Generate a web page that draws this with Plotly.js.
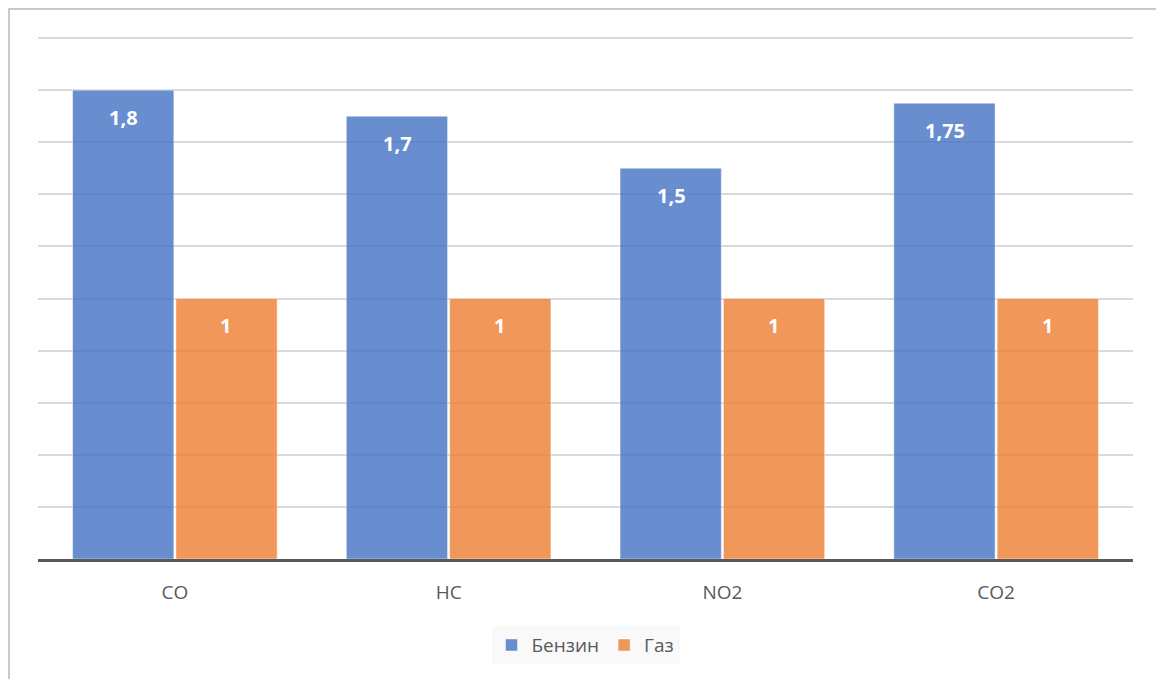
<!DOCTYPE html>
<html>
<head>
<meta charset="utf-8">
<script src="https://cdn.plot.ly/plotly-3.0.1.min.js"></script>
<style>
  html, body { margin: 0; padding: 0; background: #fff; }
  #chart { width: 1156px; height: 679px; }
  #frame { position: absolute; left: 8px; top: 8px; width: 1200px; height: 720px;
           border-left: 2px solid #c9c9c9; border-top: 2px solid #c9c9c9; pointer-events: none; }
</style>
</head>
<body>
<div id="chart"></div>
<div id="frame"></div>
<script>
const categories = ["CO", "HC", "NO2", "CO2"];
const seriesNames = ["Бензин", "Газ"];
const petrolValues = [1.8, 1.7, 1.5, 1.75];
const gasValues = [1, 1, 1, 1];

const colors = ["rgba(68,114,196,0.80)", "rgba(237,125,49,0.80)"];
const allValues = [petrolValues, gasValues];

const traces = allValues.map((vals, i) => ({
  type: "bar",
  name: seriesNames[i],
  x: categories,
  y: vals,
  marker: { color: colors[i], line: { color: "rgba(255,255,255,0.45)", width: 1 } },
  hoverinfo: "none"
}));

const offsets = [-51, 51];
const annotations = [];
allValues.forEach((vals, i) => {
  vals.forEach((v, j) => {
    annotations.push({
      x: categories[j], y: v, xref: "x", yref: "y",
      text: "<b>" + String(v).replace(".", ",") + "</b>",
      showarrow: false, xshift: offsets[i], yshift: -27,
      font: { family: "Open Sans, sans-serif", size: 20, color: "#ffffff" }
    });
  });
});

const layout = {
  width: 1156, height: 679,
  margin: { l: 38, r: 23, t: 37, b: 120 },
  paper_bgcolor: "#ffffff", plot_bgcolor: "#ffffff",
  barmode: "group", bargap: 0.245, bargroupgap: 0.02,
  separators: ", ",
  font: { family: "Open Sans, sans-serif", color: "#595959" },
  xaxis: {
    type: "category",
    tickfont: { size: 19, color: "#595959" },
    showline: true, linecolor: "#595959", linewidth: 3,
    ticks: "", ticklabelstandoff: 14, showgrid: false, zeroline: false, fixedrange: true
  },
  yaxis: {
    range: [0, 2.004], dtick: 0.2, showticklabels: false,
    showgrid: true, gridcolor: "#d9d9d9", gridwidth: 2,
    zeroline: false, showline: false, ticks: "", fixedrange: true
  },
  showlegend: true,
  legend: {
    orientation: "h", x: 0.5, xanchor: "center", y: -0.165, yanchor: "middle",
    bgcolor: "#f9f9f9", font: { size: 19, color: "#595959" },
    itemwidth: 30, tracegroupgap: 0
  },
  annotations: annotations
};

Plotly.newPlot("chart", traces, layout, { displayModeBar: false, staticPlot: true });
</script>
</body>
</html>
